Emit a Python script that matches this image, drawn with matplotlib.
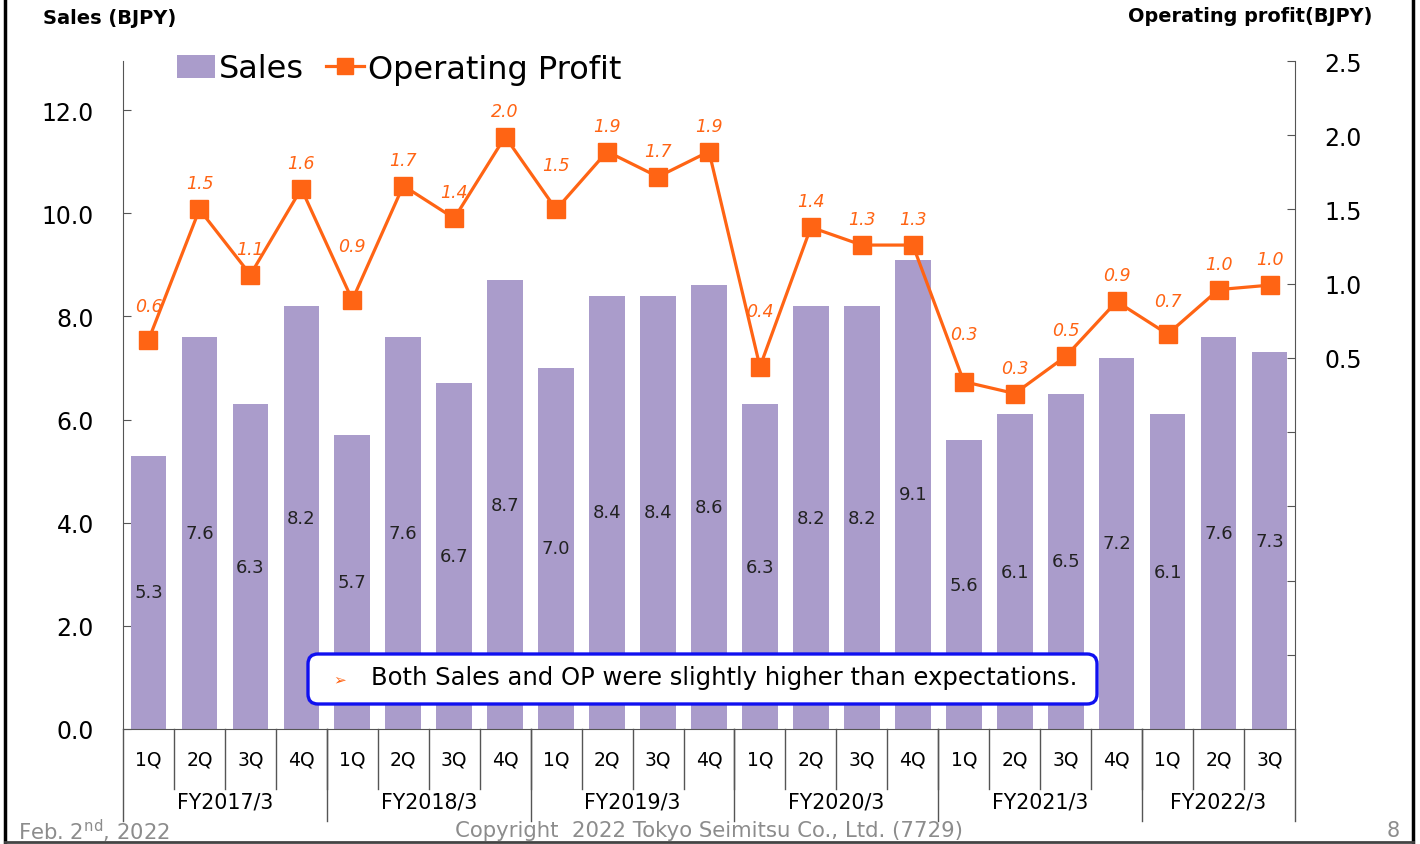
import numpy as np
import matplotlib
matplotlib.use('Agg')
import matplotlib.pyplot as plt
import matplotlib.transforms as mtransforms
from matplotlib.patches import Patch, FancyBboxPatch
from matplotlib.lines import Line2D

# data
quarters = ['1Q', '2Q', '3Q', '4Q'] * 5 + ['1Q', '2Q', '3Q']
years = ['FY2017/3', 'FY2018/3', 'FY2019/3', 'FY2020/3', 'FY2021/3', 'FY2022/3']
quarters_per_year = [4, 4, 4, 4, 4, 3]
sales = [5.3, 7.6, 6.3, 8.2, 5.7, 7.6, 6.7, 8.7, 7.0, 8.4, 8.4, 8.6,
         6.3, 8.2, 8.2, 9.1, 5.6, 6.1, 6.5, 7.2, 6.1, 7.6, 7.3]
op = [0.62, 1.50, 1.06, 1.64, 0.89, 1.66, 1.44, 1.99, 1.50, 1.89, 1.72, 1.89,
      0.44, 1.38, 1.26, 1.26, 0.34, 0.26, 0.51, 0.88, 0.66, 0.96, 0.99]
note = 'Both Sales and OP were slightly higher than expectations.'

BAR_C = '#aa9ccb'
OP_C = '#ff6414'
AX_C = '#555555'

W, H = 1420, 845
fig = plt.figure(figsize=(W / 100, H / 100), dpi=100)
ax = fig.add_axes([123 / W, 1 - 730 / H, 1172 / W, 668 / H])
x = np.arange(len(sales))

ax.bar(x, sales, width=0.7, color=BAR_C, zorder=2)
for xi, v in zip(x, sales):
    ax.text(xi, v / 2, f'{v:.1f}', ha='center', va='center', fontsize=13, color='#222222', zorder=3)

ax.set_xlim(-0.5, len(sales) - 0.5)
ax.set_ylim(0, 12.95)
ax.set_yticks(np.arange(0, 12.1, 2.0))
ax.set_yticklabels([f'{v:.1f}' for v in np.arange(0, 12.1, 2.0)])
ax.set_xticks([])
for s in ['top', 'right']:
    ax.spines[s].set_visible(False)
ax.spines['left'].set_color(AX_C)
ax.spines['bottom'].set_color(AX_C)
ax.tick_params(axis='y', direction='in', length=6, color=AX_C, labelsize=17, pad=21)

ax2 = ax.twinx()
ax2.plot(x, op, color=OP_C, lw=2.3, marker='s', ms=13, zorder=4)
ax2.set_ylim(-2.0, 2.5)
rt = np.arange(-1.5, 2.51, 0.5)
ax2.set_yticks(rt)
ax2.set_yticklabels([f'{v:.1f}' if v >= 0.49 else '' for v in rt])
for s in ['top', 'left', 'bottom']:
    ax2.spines[s].set_visible(False)
ax2.spines['right'].set_color(AX_C)
ax2.tick_params(axis='y', direction='in', length=6, color=AX_C, labelsize=17, pad=21)

# pixel lift of the OP value labels (default 26)
lift = {0: 34, 4: 54, 8: 44, 12: 56, 16: 48, 20: 33}
for i, v in enumerate(op):
    ax2.annotate(f'{v:.1f}', (i, v), xytext=(0, lift.get(i, 26)), textcoords='offset pixels',
                 ha='center', va='center', fontsize=12.5, style='italic', color=OP_C)

# category axis: quarters and fiscal years
tr = mtransforms.blended_transform_factory(ax.transData, ax.transAxes)
for i, q in enumerate(quarters):
    ax.text(i, -30 / 668, q, transform=tr, ha='center', va='center', fontsize=13.5, clip_on=False)
for i in range(len(quarters) - 1):
    ax.plot([i + 0.5, i + 0.5], [0, -60 / 668], transform=tr, color=AX_C, lw=1, clip_on=False)
edges = np.concatenate([[0], np.cumsum(quarters_per_year)]) - 0.5
for e in edges:
    ax.plot([e, e], [0, -92 / 668], transform=tr, color=AX_C, lw=1, clip_on=False)
for k, y in enumerate(years):
    ax.text((edges[k] + edges[k + 1]) / 2, -73 / 668, y, transform=tr, ha='center', va='center',
            fontsize=14.8, clip_on=False)

# legend
handles = [Patch(facecolor=BAR_C, edgecolor='none'),
           Line2D([], [], color=OP_C, lw=2.3, marker='s', ms=11)]
fig.legend(handles, ['Sales', 'Operating Profit'], loc='center left',
           bbox_to_anchor=(177 / W, 1 - 70 / H), bbox_transform=fig.transFigure,
           ncol=2, frameon=False, fontsize=23, handlelength=1.2, handletextpad=0.1,
           columnspacing=0.7, borderpad=0, borderaxespad=0)

fig.text(43 / W, 1 - 19 / H, 'Sales (BJPY)', fontsize=14, weight='bold', va='center')
fig.text(1372 / W, 1 - 17 / H, 'Operating profit(BJPY)', fontsize=13.9, weight='bold',
         va='center', ha='right')

# comment box
box = FancyBboxPatch((308 / W, 1 - 705 / H), 789 / W, 50 / H,
                     boxstyle='round,pad=0,rounding_size=0.007', mutation_aspect=W / H,
                     transform=fig.transFigure, facecolor='white', edgecolor='#1010f0', lw=2.4)
fig.add_artist(box)
fig.text(340 / W, 1 - 680 / H, '➢', color=OP_C, fontsize=11, ha='center', va='center')
fig.text(371 / W, 1 - 678 / H, note, fontsize=17.5, ha='left', va='center')

# footer
grey = '#8c8c8c'
fig.text(18 / W, 1 - 831 / H, 'Feb. 2$^{\\mathrm{nd}}$, 2022', color=grey, fontsize=15.2, va='center')
fig.text(709 / W, 1 - 831 / H, 'Copyright  2022 Tokyo Seimitsu Co., Ltd. (7729)', color=grey,
         fontsize=15.3, va='center', ha='center')
fig.text(1400 / W, 1 - 831 / H, '8', color=grey, fontsize=15, va='center', ha='right')

# slide frame
fig.add_artist(Line2D([5 / W, 5 / W], [0, 1], color='black', lw=2.5))
fig.add_artist(Line2D([1413 / W, 1413 / W], [0, 1], color='black', lw=2.5))
fig.add_artist(Line2D([5 / W, 1413 / W], [2 / H, 2 / H], color='#444444', lw=2))

fig.savefig('out.png', dpi=100)
